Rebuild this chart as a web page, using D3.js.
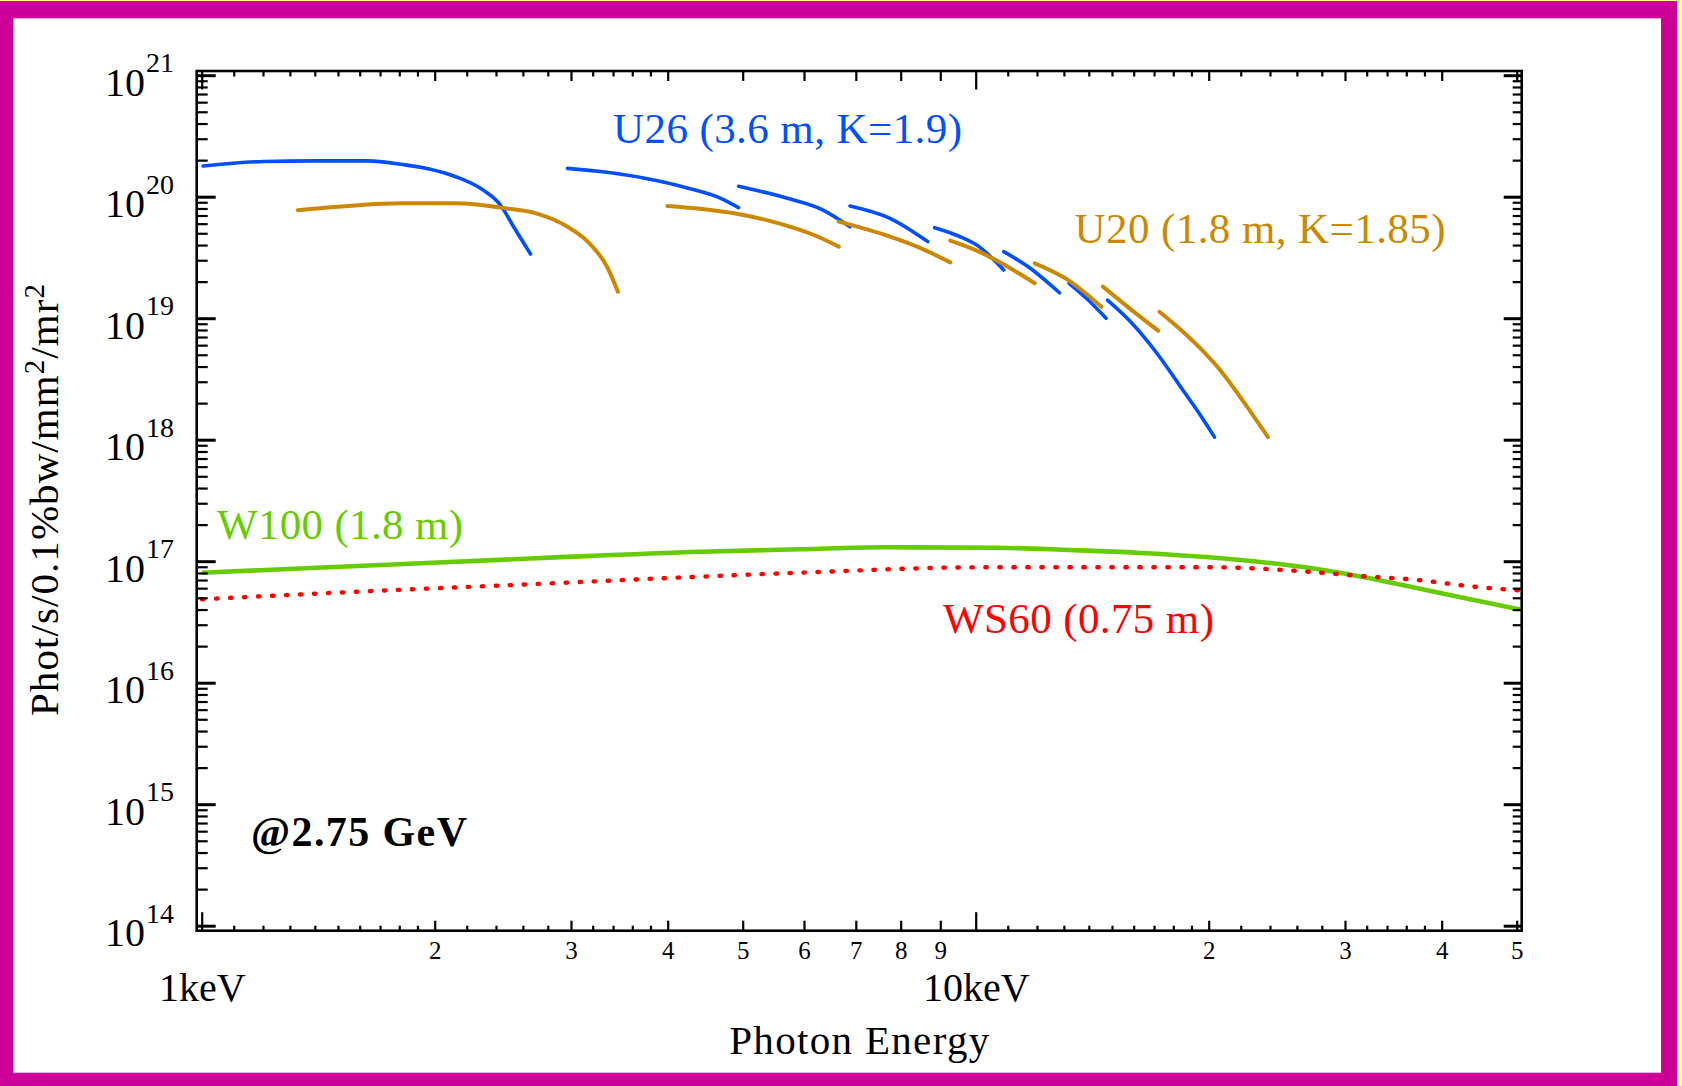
<!DOCTYPE html>
<html>
<head>
<meta charset="utf-8">
<script src="https://cdn.jsdelivr.net/npm/d3@7"></script>
<style>
  html, body { margin: 0; padding: 0; background: #ffffff; }
  svg { display: block; }
</style>
</head>
<body>
<svg id="chart" width="1682" height="1086"></svg>
<script>
// Brilliance at 2.75 GeV: photon energy (keV) vs Phot/s/0.1%bw/mm^2/mr^2

// U26 undulator harmonics (one array per harmonic tuning segment)
const u26Segments = [
  [[1.004,1.79e20],[1.204,1.95e20],[1.40,1.97e20],[1.634,1.97e20],[1.819,1.84e20],[1.968,1.69e20],[2.129,1.46e20],[2.307,1.14e20],[2.433,8.5e19],[2.529,5.66e19],[2.66,3.37e19]],
  [[2.969,1.71e20],[3.275,1.61e20],[3.738,1.42e20],[4.265,1.17e20],[4.684,9.7e19],[4.94,8.12e19]],
  [[4.94,1.22e20],[5.71,9.7e19],[6.35,7.77e19],[6.88,5.66e19]],
  [[6.88,8.39e19],[7.75,6.64e19],[8.67,4.27e19]],
  [[8.85,5.56e19],[9.5,4.75e19],[10.1,3.88e19],[10.87,2.49e19]],
  [[10.87,3.53e19],[11.69,2.65e19],[12.83,1.62e19]],
  [[13.2,1.94e19],[13.9,1.46e19],[14.74,9.98e18]],
  [[14.8,1.41e19],[15.82,9.48e18],[17.21,4.98e18],[18.48,2.61e18],[19.58,1.54e18],[20.35,1.05e18]]
];

// U20 undulator harmonics
const u20Segments = [
  [[1.331,7.73e19],[1.469,8.18e19],[1.818,8.83e19],[2.132,8.83e19],[2.466,8.03e19],[2.705,7.3e19],[2.969,5.66e19],[3.17,4.13e19],[3.34,2.65e19],[3.449,1.65e19]],
  [[3.996,8.39e19],[4.875,7.3e19],[5.567,6.04e19],[6.18,4.84e19],[6.655,3.88e19]],
  [[6.655,6.23e19],[7.75,4.69e19],[8.5,3.76e19],[9.27,2.88e19]],
  [[9.27,4.35e19],[10.1,3.53e19],[10.8,2.83e19],[11.92,1.94e19]],
  [[11.92,2.83e19],[13.17,2.06e19],[14.54,1.24e19]],
  [[14.6,1.82e19],[15.82,1.2e19],[17.21,7.89e18]],
  [[17.27,1.13e19],[18.48,7.85e18],[19.7,5.3e18],[20.75,3.66e18],[22.13,2.1e18],[23.86,1.05e18]]
];

// W100 wiggler
const w100 = [[1.001,8.04e16],[1.59,9.13e16],[2.705,1.057e17],[4.41,1.197e17],[5.93,1.253e17],[7.62,1.301e17],[10.64,1.29e17],[13.22,1.236e17],[16.16,1.175e17],[20.75,1.057e17],[26.65,8.91e16],[31.5,7.46e16],[37.24,5.98e16],[44.0,4.8e16],[50.5,4.0e16]];

// WS60 superconducting wiggler
const ws60 = [[1.001,4.86e16],[1.59,5.61e16],[2.705,6.49e16],[4.41,7.46e16],[5.93,8.04e16],[10.29,8.91e16],[20.07,8.91e16],[25.78,8.35e16],[31.5,7.55e16],[37.24,7.0e16],[44.0,6.17e16],[50.5,5.75e16]];

// Axis ticks and labels
const xDecadeVals = [1, 10];
const xDecadeLabels = ["1keV", "10keV"];
const xMidVals = [2, 3, 4, 5, 6, 7, 8, 9, 20, 30, 40, 50];
const xMidLabels = ["2", "3", "4", "5", "6", "7", "8", "9", "2", "3", "4", "5"];
const xMinorVals = [1.1,1.2,1.3,1.4,1.5,1.6,1.7,1.8,1.9, 2.2,2.4,2.6,2.8, 3.2,3.4,3.6,3.8,
                    11,12,13,14,15,16,17,18,19, 22,24,26,28, 32,34,36,38];
const yDecadeExp = [14, 15, 16, 17, 18, 19, 20, 21];

const labelsText = [
  { text: "U26 (3.6 m, K=1.9)", color: "#0050ff", x: 613, y: 143.3, len: 349 },
  { text: "U20 (1.8 m, K=1.85)", color: "#cc8800", x: 1074.5, y: 243.3, len: 371 },
  { text: "W100 (1.8 m)", color: "#66cc00", x: 217, y: 539.3, len: 246 },
  { text: "WS60 (0.75 m)", color: "#ff0000", x: 943, y: 633.3, len: 271 }
];

const FONT = "'Liberation Serif', 'Times New Roman', Times, serif";
const frame = { left: 196.7, right: 1521.7, top: 71, bottom: 930.7 };

const svg = d3.select("#chart");

// page border
svg.append("rect").attr("x", 0).attr("y", 0).attr("width", 1682).attr("height", 1086).attr("fill", "#ffffff");
const border = "#cc0099";
svg.append("rect").attr("x", 0).attr("y", 0).attr("width", 1682).attr("height", 18.3).attr("fill", border);
svg.append("rect").attr("x", 0).attr("y", 1072.7).attr("width", 1682).attr("height", 13.3).attr("fill", border);
svg.append("rect").attr("x", 0).attr("y", 0).attr("width", 13.3).attr("height", 1086).attr("fill", border);
svg.append("rect").attr("x", 1661).attr("y", 0).attr("width", 16).attr("height", 1086).attr("fill", border);
svg.append("rect").attr("x", 1677).attr("y", 0).attr("width", 5).attr("height", 1086).attr("fill", "#ffff99");
svg.append("rect").attr("x", 0).attr("y", 0).attr("width", 1682).attr("height", 1).attr("fill", "#ffff99");

// scales
const x = d3.scaleLog().domain([1, 10]).range([201.7, 975.7]);
const y = d3.scaleLog().domain([1e14, 1e21]).range([925.7, 75.2]);

svg.append("clipPath").attr("id", "plotClip")
  .append("rect")
  .attr("x", frame.left).attr("y", frame.top)
  .attr("width", frame.right - frame.left).attr("height", frame.bottom - frame.top);

const line = d3.line()
  .x(d => x(d[0]))
  .y(d => y(d[1]))
  .curve(d3.curveMonotoneX);

const plot = svg.append("g").attr("clip-path", "url(#plotClip)");

plot.append("g").selectAll("path").data(u26Segments).join("path")
  .attr("d", line).attr("fill", "none").attr("stroke", "#0050ff")
  .attr("stroke-width", 3.6).attr("stroke-linecap", "round");

plot.append("g").selectAll("path").data(u20Segments).join("path")
  .attr("d", line).attr("fill", "none").attr("stroke", "#cc8800")
  .attr("stroke-width", 4).attr("stroke-linecap", "round");

plot.append("path").datum(w100)
  .attr("d", line).attr("fill", "none").attr("stroke", "#66cc00")
  .attr("stroke-width", 4.6);

plot.append("path").datum(ws60)
  .attr("d", line).attr("fill", "none").attr("stroke", "#ff0000")
  .attr("stroke-width", 4.4).attr("stroke-linecap", "round")
  .attr("stroke-dasharray", "1.5 12.5");

// axes (ticks point inward)
function styleAxis(g) {
  g.select(".domain").remove();
  g.selectAll(".tick line").attr("stroke", "#000").attr("stroke-width", 2.2);
}

const gBottom = svg.append("g").attr("transform", `translate(0,${frame.bottom})`);
gBottom.append("g").call(d3.axisBottom(x).tickValues(xMinorVals).tickSize(-5).tickFormat("")).call(styleAxis);
gBottom.append("g").call(d3.axisBottom(x).tickValues(xMidVals).tickSize(-10)
    .tickFormat(d => xMidLabels[xMidVals.indexOf(d)]))
  .call(styleAxis)
  .call(g => g.selectAll(".tick text")
    .attr("y", 959 - frame.bottom).attr("dy", null)
    .attr("font-family", FONT).attr("font-size", 25).attr("fill", "#000"));
gBottom.append("g").call(d3.axisBottom(x).tickValues(xDecadeVals).tickSize(-18.5)
    .tickFormat(d => xDecadeLabels[xDecadeVals.indexOf(d)]))
  .call(styleAxis)
  .call(g => g.selectAll(".tick text")
    .attr("y", 1001 - frame.bottom).attr("dy", null)
    .attr("font-family", FONT).attr("font-size", 40).attr("fill", "#000"));

const gTop = svg.append("g").attr("transform", `translate(0,${frame.top})`);
gTop.append("g").call(d3.axisTop(x).tickValues(xMinorVals).tickSize(-5.5).tickFormat("")).call(styleAxis);
gTop.append("g").call(d3.axisTop(x).tickValues(xMidVals).tickSize(-10).tickFormat("")).call(styleAxis);
gTop.append("g").call(d3.axisTop(x).tickValues(xDecadeVals).tickSize(-18.5).tickFormat("")).call(styleAxis);

const yMinorVals = [];
for (let e = 14; e <= 20; e++) for (let k = 2; k <= 9; k++) yMinorVals.push(k * Math.pow(10, e));
const yMajorVals = yDecadeExp.map(e => Math.pow(10, e));

const gLeft = svg.append("g").attr("transform", `translate(${frame.left},0)`);
gLeft.append("g").call(d3.axisLeft(y).tickValues(yMinorVals).tickSize(-11).tickFormat("")).call(styleAxis);
gLeft.append("g").call(d3.axisLeft(y).tickValues(yMajorVals).tickSize(-19).tickFormat("")).call(styleAxis)
  .call(g => g.selectAll(".tick line").attr("stroke-width", 3));

const gRight = svg.append("g").attr("transform", `translate(${frame.right},0)`);
gRight.append("g").call(d3.axisRight(y).tickValues(yMinorVals).tickSize(-9).tickFormat("")).call(styleAxis);
gRight.append("g").call(d3.axisRight(y).tickValues(yMajorVals).tickSize(-18).tickFormat("")).call(styleAxis)
  .call(g => g.selectAll(".tick line").attr("stroke-width", 3));

// y tick labels: 10 with superscript exponent
const yLabels = svg.append("g").attr("font-family", FONT).attr("fill", "#000");
yLabels.selectAll("text.base").data(yDecadeExp).join("text")
  .attr("class", "base")
  .attr("x", 145).attr("y", e => y(Math.pow(10, e)) + 20.5)
  .attr("text-anchor", "end").attr("font-size", 40)
  .text("10");
yLabels.selectAll("text.exp").data(yDecadeExp).join("text")
  .attr("class", "exp")
  .attr("x", 146).attr("y", e => y(Math.pow(10, e)) - 3)
  .attr("text-anchor", "start").attr("font-size", 28)
  .text(e => e);

// frame
svg.append("rect")
  .attr("x", frame.left).attr("y", frame.top)
  .attr("width", frame.right - frame.left).attr("height", frame.bottom - frame.top)
  .attr("fill", "none").attr("stroke", "#000").attr("stroke-width", 2.6);

// series labels
svg.append("g").selectAll("text").data(labelsText).join("text")
  .attr("x", d => d.x).attr("y", d => d.y)
  .attr("fill", d => d.color)
  .attr("font-family", FONT).attr("font-size", 43)
  .attr("textLength", d => d.len).attr("lengthAdjust", "spacing")
  .text(d => d.text);

svg.append("text")
  .attr("x", 251).attr("y", 846)
  .attr("font-family", FONT).attr("font-size", 42).attr("font-weight", "bold")
  .attr("fill", "#000")
  .attr("textLength", 216).attr("lengthAdjust", "spacing")
  .text("@2.75 GeV");

// axis titles
svg.append("text")
  .attr("x", (frame.left + frame.right) / 2).attr("y", 1054)
  .attr("text-anchor", "middle")
  .attr("font-family", FONT).attr("font-size", 41).attr("fill", "#000")
  .attr("textLength", 260).attr("lengthAdjust", "spacing")
  .text("Photon Energy");

const yTitle = svg.append("text")
  .attr("transform", "translate(58,716) rotate(-90)")
  .attr("font-family", FONT).attr("font-size", 41).attr("fill", "#000")
  .attr("textLength", 432).attr("lengthAdjust", "spacing");
yTitle.append("tspan").text("Phot/s/0.1%bw/mm");
yTitle.append("tspan").attr("dy", -14).attr("font-size", 29).text("2");
yTitle.append("tspan").attr("dy", 14).text("/mr");
yTitle.append("tspan").attr("dy", -14).attr("font-size", 29).text("2");
</script>
</body>
</html>
